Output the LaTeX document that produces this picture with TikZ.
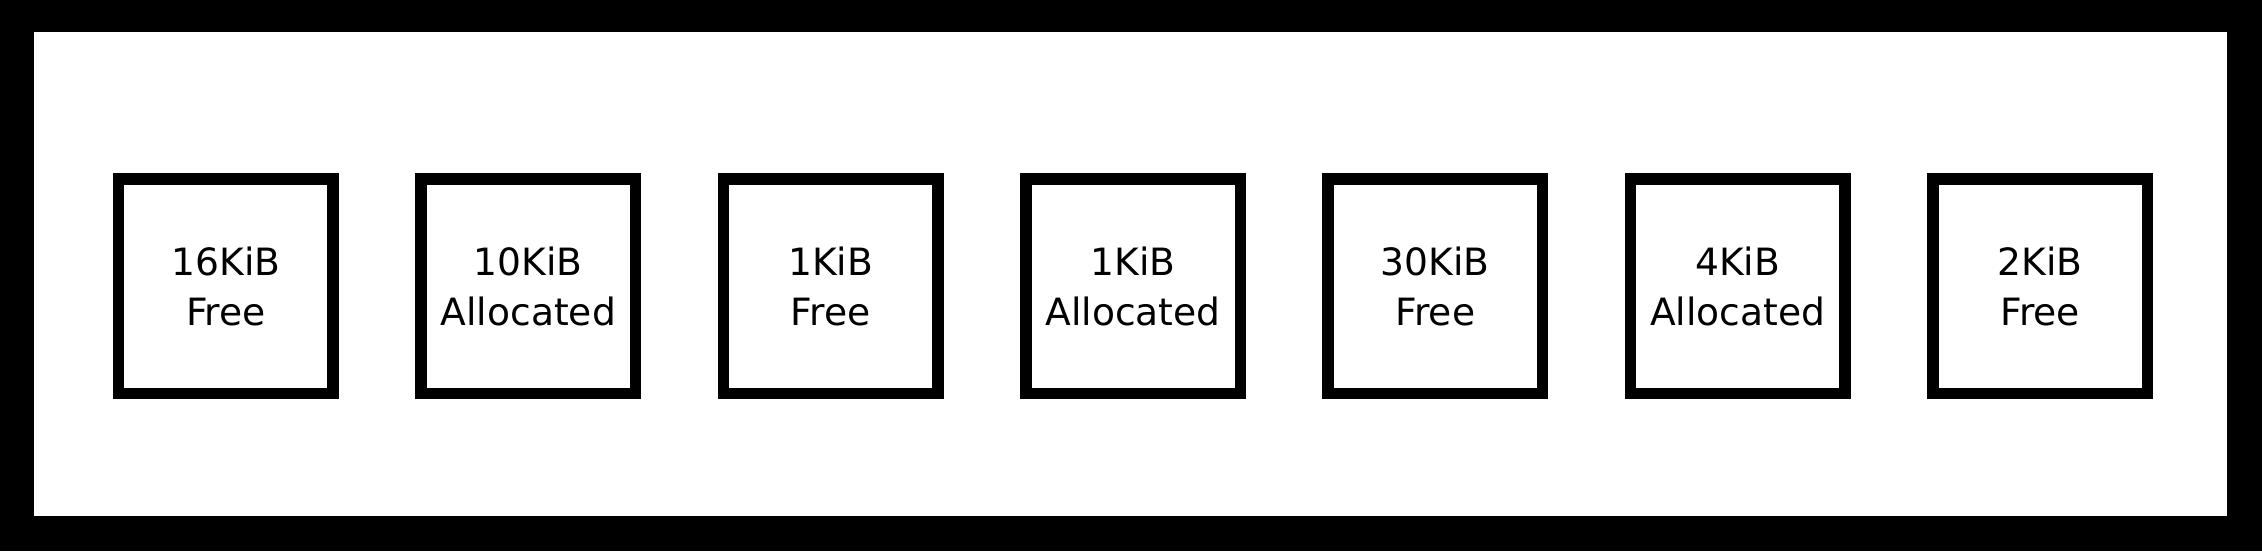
\documentclass[tikz,border=0pt]{standalone}
\usepackage{fontspec}
\setmainfont{DejaVu Sans}
\begin{document}
\begin{tikzpicture}[auto,
    block/.style ={rectangle, draw, line width=5.75pt, minimum size=107.25pt,
      inner sep=0pt, align=center, font=\fontsize{18.8pt}{25pt}\selectfont}]
   \useasboundingbox (0,0) rectangle (39.750,9.683);
   \fill[black] (0,0) rectangle (39.750,9.683);
   \fill[white] (0.597,0.615) rectangle (39.135,9.120);

   \node[block] (A)  at (3.971,4.657)  {16KiB\\Free};
   \node[block] (B)  at (9.284,4.657)  {10KiB\\Allocated};
   \node[block] (C)  at (14.597,4.657)  {1KiB\\Free};
   \node[block] (D)  at (19.910,4.657)  {1KiB\\Allocated};
   \node[block] (E)  at (25.223,4.657)  {30KiB\\Free};
   \node[block] (F)  at (30.536,4.657)  {4KiB\\Allocated};
   \node[block] (G)  at (35.849,4.657)  {2KiB\\Free};
 \end{tikzpicture}
\end{document}
